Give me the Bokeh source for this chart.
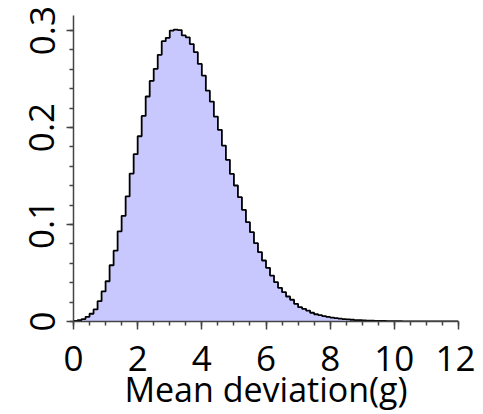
import numpy as np
from bokeh.plotting import figure
from bokeh.models import SingleIntervalTicker, Range1d
from bokeh.embed import file_html
from bokeh.resources import INLINE

# histogram: bin width and density values
bin_width = 0.125
bin_start = 0.0
density = [
    0.0005, 0.0013, 0.0025, 0.0048, 0.0080, 0.0125, 0.0210, 0.0310,
    0.0415, 0.0580, 0.0730, 0.0930, 0.1090, 0.1290, 0.1525, 0.1725,
    0.1910, 0.2120, 0.2320, 0.2480, 0.2605, 0.2750, 0.2890, 0.2925,
    0.3000, 0.3010, 0.3005, 0.2950, 0.2930, 0.2860, 0.2777, 0.2656,
    0.2536, 0.2380, 0.2268, 0.2113, 0.1976, 0.1814, 0.1667, 0.1522,
    0.1402, 0.1282, 0.1151, 0.1024, 0.0921, 0.0808, 0.0715, 0.0629,
    0.0553, 0.0474, 0.0405, 0.0347, 0.0302, 0.0258, 0.0224, 0.0182,
    0.0148, 0.0131, 0.0113, 0.0090, 0.0075, 0.0065, 0.0055, 0.0047,
    0.0040, 0.0034, 0.0029, 0.0025, 0.0021, 0.0018, 0.0015, 0.0013,
    0.0011, 0.0009, 0.0008, 0.0007, 0.0006, 0.0005, 0.0004, 0.0004,
    0.0003, 0.0003, 0.0002, 0.0002, 0.0002, 0.0001, 0.0001, 0.0001,
    0.0001, 0.0001, 0.0001, 0.0000, 0.0000, 0.0000, 0.0000, 0.0000,
]
x_label = "Mean deviation(g)"

edges = bin_start + bin_width * np.arange(len(density) + 1)
tops = list(density) + [density[-1]]

FONT = "Open Sans"

p = figure(width=475, height=414, output_backend="svg", toolbar_location=None,
           x_range=Range1d(0, 12), y_range=Range1d(0, 0.3155),
           min_border_left=73, min_border_right=17, min_border_top=15,
           min_border_bottom=93)
p.outline_line_color = None
p.xgrid.visible = False
p.ygrid.visible = False
p.background_fill_color = "white"
p.border_fill_color = "white"

p.varea_step(x=edges, y1=np.zeros(len(edges)), y2=tops, step_mode="after",
             fill_color="#c8c8ff")
p.step(x=edges, y=tops, mode="after", line_color="black", line_width=1.8)

for ax in (p.xaxis[0], p.yaxis[0]):
    ax.axis_line_color = "#444444"
    ax.axis_line_width = 1.5
    ax.major_tick_line_color = "#444444"
    ax.minor_tick_line_color = "#444444"
    ax.major_tick_line_width = 1.5
    ax.minor_tick_line_width = 1.5
    ax.major_tick_in = 0
    ax.minor_tick_in = 0
    ax.major_label_text_font = FONT
    ax.major_label_text_font_size = "35px"
    ax.major_label_text_color = "black"

p.xaxis.ticker = SingleIntervalTicker(interval=2, num_minor_ticks=4)
p.xaxis.major_tick_out = 8
p.xaxis.minor_tick_out = 4
p.xaxis.major_label_standoff = 16
p.xaxis.axis_label = x_label
p.xaxis.axis_label_text_font = FONT
p.xaxis.axis_label_text_font_size = "34px"
p.xaxis.axis_label_text_font_style = "normal"
p.xaxis.axis_label_text_color = "black"
p.xaxis.axis_label_standoff = -8

p.yaxis.ticker = SingleIntervalTicker(interval=0.1, num_minor_ticks=5)
p.yaxis.major_tick_out = 7
p.yaxis.minor_tick_out = 4
p.yaxis.major_label_orientation = "vertical"
p.yaxis.major_label_standoff = 12
p.yaxis.major_label_overrides = {0: "0"}

open("out.html", "w").write(file_html(p, INLINE))
